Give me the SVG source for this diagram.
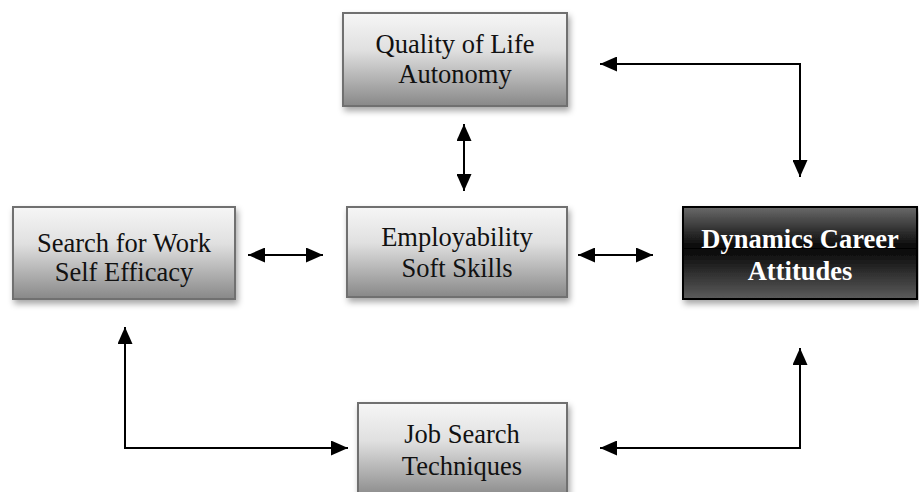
<svg xmlns="http://www.w3.org/2000/svg" width="919" height="492" viewBox="0 0 919 492">
<style>
.box{fill:url(#g);stroke:#707070;stroke-width:2;filter:url(#sh)}
.dark{fill:url(#d);stroke:#000;stroke-width:2;filter:url(#sh)}
.t{font-family:"Liberation Serif","Times New Roman",serif;font-size:26.5px;fill:#111;text-anchor:middle}
.tw{font-family:"Liberation Serif","Times New Roman",serif;font-size:26.5px;font-weight:bold;fill:#fff;text-anchor:middle}
.c{fill:none;stroke:#000;stroke-width:2;marker-start:url(#a);marker-end:url(#a)}
</style>
<defs>
<linearGradient id="g" x1="0" y1="0" x2="0" y2="1">
<stop offset="0" stop-color="#f6f6f6"/>
<stop offset="0.4" stop-color="#e0e0e0"/>
<stop offset="1" stop-color="#888888"/>
</linearGradient>
<linearGradient id="d" x1="0" y1="0" x2="0" y2="1">
<stop offset="0" stop-color="#6a6a6a"/>
<stop offset="0.45" stop-color="#050505"/>
<stop offset="1" stop-color="#5c5c5c"/>
</linearGradient>
<filter id="sh" x="-10%" y="-10%" width="130%" height="140%">
<feDropShadow dx="2" dy="4" stdDeviation="3" flood-color="#000" flood-opacity="0.35"/>
</filter>
<marker id="a" markerUnits="userSpaceOnUse" markerWidth="17" markerHeight="15" refX="17" refY="7.5" orient="auto-start-reverse" viewBox="0 0 17 15">
<path d="M0,0 L17,7.5 L0,15 z" fill="#000"/>
</marker>
</defs>
<g id="quality">
<rect class="box" x="343" y="13" width="224" height="93"/>
<text class="t" x="455" y="53">Quality of Life</text>
<text class="t" x="455" y="83">Autonomy</text>
</g>
<g id="search">
<rect class="box" x="13" y="207" width="222" height="92"/>
<text class="t" x="124" y="252">Search for Work</text>
<text class="t" x="124" y="281">Self Efficacy</text>
</g>
<g id="employability">
<rect class="box" x="347" y="207" width="220" height="90"/>
<text class="t" x="457" y="246">Employability</text>
<text class="t" x="457" y="277">Soft Skills</text>
</g>
<g id="dynamics">
<rect class="dark" x="683" y="207" width="234" height="92"/>
<text class="tw" x="800" y="248">Dynamics Career</text>
<text class="tw" x="800" y="280">Attitudes</text>
</g>
<g id="jobsearch">
<rect class="box" x="358" y="403" width="209" height="95"/>
<text class="t" x="462" y="443">Job Search</text>
<text class="t" x="462" y="475">Techniques</text>
</g>
<g id="connectors">
<path class="c" d="M464,124 L464,191"/>
<path class="c" d="M248,255 L323,255"/>
<path class="c" d="M578,255 L653,255"/>
<path class="c" d="M600,64 L800,64 L800,177"/>
<path class="c" d="M125,327 L125,448 L348,448"/>
<path class="c" d="M600,448 L800,448 L800,348"/>
</g>
</svg>
